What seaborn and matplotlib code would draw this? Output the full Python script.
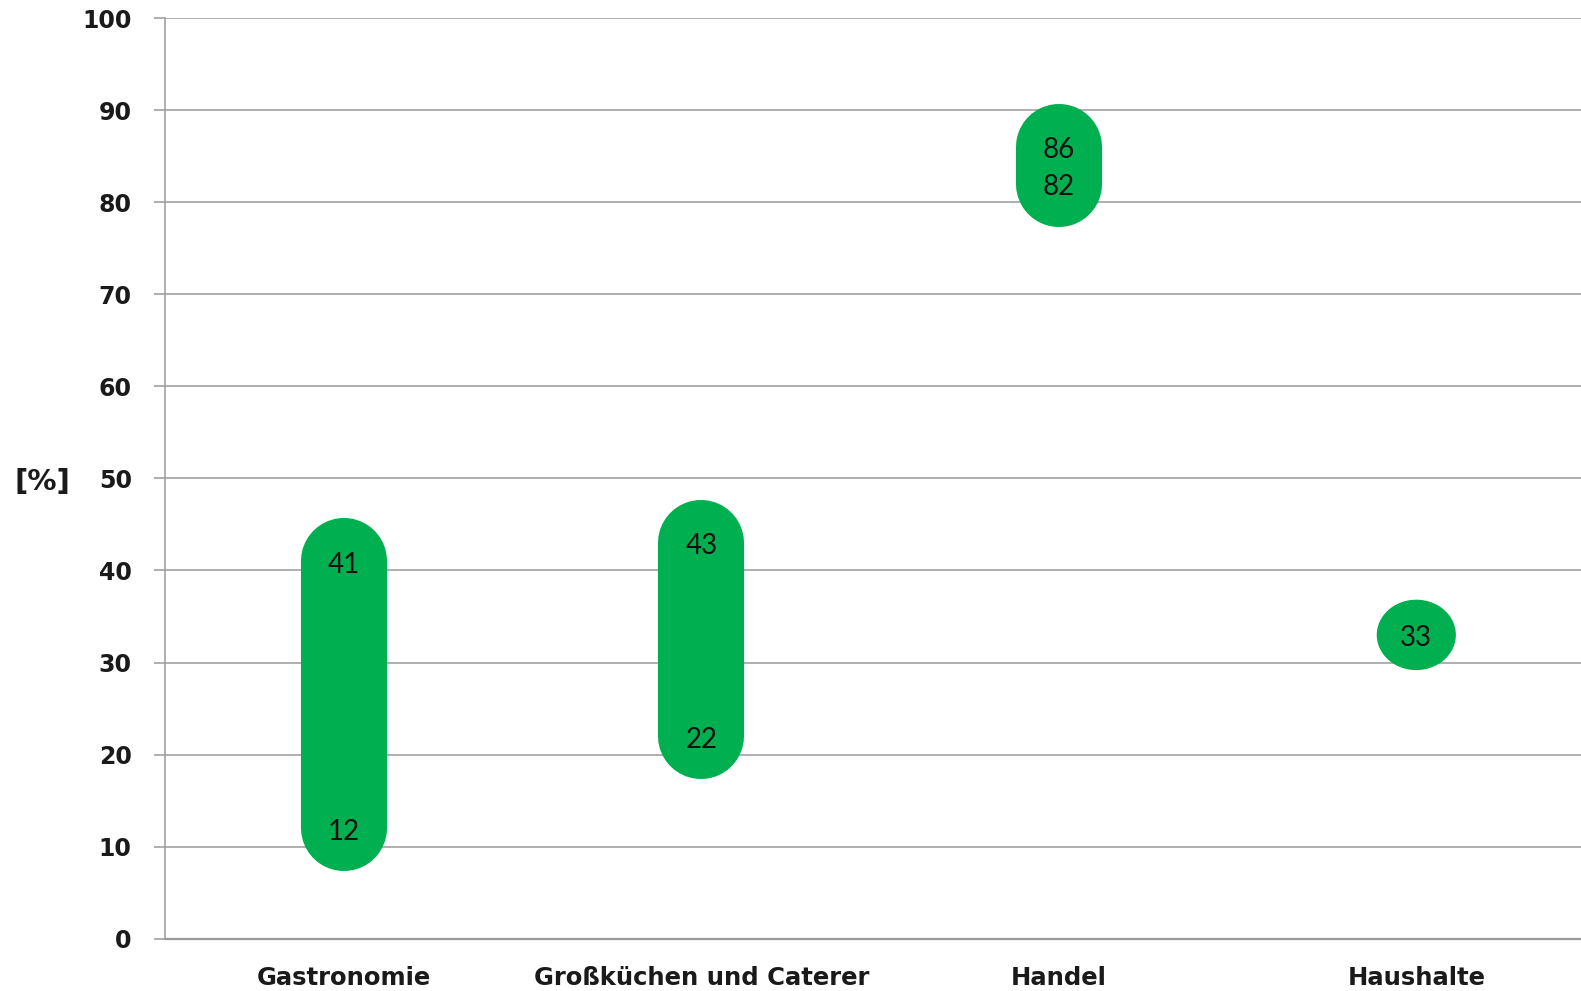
import numpy as np
import pandas as pd
import matplotlib
matplotlib.use("Agg")
import matplotlib.pyplot as plt
from matplotlib.path import Path
import seaborn as sns

# Range per sector in percent
categories = ["Gastronomie", "Großküchen und Caterer", "Handel", "Haushalte"]
low_values = [12, 22, 82, 33]
high_values = [41, 43, 86, 33]
y_ticks = [0, 10, 20, 30, 40, 50, 60, 70, 80, 90, 100]

GREEN = "#00B050"
GRID = "#9a9a9a"

sns.set_style("white")
plt.rcParams["font.family"] = ["DejaVu Sans"]

fig = plt.figure(figsize=(15.81, 9.91), dpi=100)
# plot area runs past the right edge of the canvas
ax = fig.add_axes([0.1044, 0.0528, 0.9045, 0.9289])

df = pd.DataFrame({
    "pos": np.repeat(np.arange(len(categories)), 2),
    "value": np.ravel(np.column_stack([low_values, high_values])),
    "sector": np.repeat(categories, 2),
})

ranges = df[df.groupby("sector")["value"].transform("nunique") > 1]
singles = df[df.groupby("sector")["value"].transform("nunique") == 1].drop_duplicates("sector")

# thick round-capped lines span low..high
sns.lineplot(data=ranges, x="pos", y="value", units="sector", estimator=None,
             sort=False, color=GREEN, linewidth=62, solid_capstyle="round",
             ax=ax, legend=False, zorder=3)

# single value: slightly flattened disc
t = np.linspace(0, 2 * np.pi, 73)
ellipse = Path(np.column_stack([np.cos(t), 0.89 * np.sin(t)]), closed=True)
sns.scatterplot(data=singles, x="pos", y="value", marker=ellipse, s=57 ** 2,
                color=GREEN, edgecolor="none", linewidth=0, ax=ax,
                legend=False, zorder=3)

# value labels
for i, (lo, hi) in enumerate(zip(low_values, high_values)):
    vals = [lo] if lo == hi else [lo, hi]
    for v in vals:
        ax.annotate(f"{v}", xy=(i, v), xytext=(0, -2.5),
                    textcoords="offset points", ha="center", va="center",
                    fontsize=20, family=["Lato", "DejaVu Sans"],
                    color="#111111", zorder=4)

ax.set_xlim(-0.5, len(categories) - 0.5)
ax.set_ylim(0, 100)
ax.set_yticks(y_ticks)
ax.set_yticklabels([str(v) for v in y_ticks], fontsize=17, fontweight="bold",
                   color="#1a1a1a")

# boundary ticks between categories, labels centred on categories
ax.set_xticks(np.arange(len(categories)) - 0.5)
ax.set_xticklabels([])
ax.set_xticks(np.arange(len(categories)), minor=True)
ax.set_xticklabels(categories, minor=True, fontsize=17.5, fontweight="bold",
                   color="#1a1a1a")
ax.tick_params(axis="x", which="minor", length=0, pad=20)
ax.tick_params(axis="x", which="major", length=7, width=1.1, color=GRID,
               direction="out")
ax.tick_params(axis="y", length=8, width=1.1, color=GRID, direction="out",
               pad=16, left=True)

ax.yaxis.grid(True, color=GRID, linewidth=1.1)
ax.xaxis.grid(False)
ax.set_axisbelow(True)

for side in ["top", "right"]:
    ax.spines[side].set_visible(False)
ax.spines["left"].set_color(GRID)
ax.spines["left"].set_linewidth(1.1)
ax.spines["bottom"].set_color(GRID)
ax.spines["bottom"].set_linewidth(1.6)

ax.set_xlabel("")
ax.set_ylabel("[%]", rotation=0, fontsize=21, fontweight="bold",
              color="#1a1a1a", labelpad=0, va="center", ha="center")
ax.yaxis.set_label_coords(-0.0857, 0.496)

fig.savefig("out.png", dpi=100)
